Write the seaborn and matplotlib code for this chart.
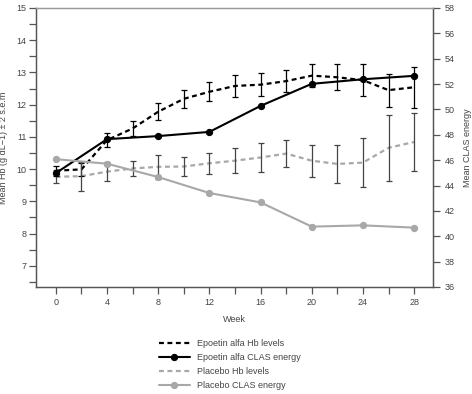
from matplotlib import pyplot as plt
from matplotlib import ticker as ticker
import seaborn as sns

sns.set_style('white')
plt.rcParams['font.family'] = ['Liberation Sans', 'DejaVu Sans']

# values
weeks_hb = [0, 2, 4, 6, 8, 10, 12, 14, 16, 18, 20, 22, 24, 26, 28]
epo_hb = [9.95, 9.99, 10.9, 11.26, 11.78, 12.18, 12.4, 12.58, 12.62, 12.73, 12.9, 12.85, 12.76, 12.45, 12.54]
epo_hb_err = [0.15, 0.2, 0.21, 0.23, 0.26, 0.28, 0.3, 0.33, 0.35, 0.34, 0.35, 0.41, 0.49, 0.51, 0.63]
pbo_hb = [9.76, 9.78, 9.92, 10.02, 10.07, 10.08, 10.18, 10.26, 10.36, 10.48, 10.26, 10.16, 10.2, 10.66, 10.84]
pbo_hb_err = [0.2, 0.45, 0.3, 0.23, 0.37, 0.3, 0.32, 0.38, 0.44, 0.42, 0.5, 0.6, 0.75, 1.02, 0.9]

weeks_clas = [0, 4, 8, 12, 16, 20, 24, 28]
epo_clas = [44.98, 47.66, 47.9, 48.23, 50.28, 52.02, 52.38, 52.65]
pbo_clas = [46.08, 45.72, 44.67, 43.41, 42.67, 40.76, 40.86, 40.68]

black = 'black'
grey = '#a8a8a8'
axis_col = '#555555'
text_col = '#444444'
fs = 6.5

fig = plt.figure(figsize=(4.72, 3.94), dpi=100)
ax = fig.add_axes([0.0763, 0.2716, 0.8417, 0.7081])
ax2 = ax.twinx()

# Hb levels (left axis)
sns.lineplot(x=weeks_hb, y=epo_hb, ax=ax, color=black, lw=1.6, dashes=False,
             linestyle=(0, (2.2, 1.6)), label='Epoetin alfa Hb levels', legend=False)
sns.lineplot(x=weeks_hb, y=pbo_hb, ax=ax, color=grey, lw=1.6, dashes=False,
             linestyle=(0, (2.2, 1.6)), label='Placebo Hb levels', legend=False)
ax.errorbar(weeks_hb, epo_hb, yerr=epo_hb_err, fmt='none', ecolor=black,
            elinewidth=0.9, capsize=2.2, capthick=0.9, zorder=4)
ax.errorbar(weeks_hb, pbo_hb, yerr=pbo_hb_err, fmt='none', ecolor='#444444',
            elinewidth=0.9, capsize=2.2, capthick=0.9, zorder=4)

# CLAS energy (right axis)
sns.lineplot(x=weeks_clas, y=epo_clas, ax=ax2, color=black, lw=1.5, marker='o',
             markersize=4.5, markeredgecolor=black, label='Epoetin alfa CLAS energy', legend=False)
sns.lineplot(x=weeks_clas, y=pbo_clas, ax=ax2, color=grey, lw=1.5, marker='o',
             markersize=4.5, markeredgecolor=grey, label='Placebo CLAS energy', legend=False)

ax.set_xlim(-1.55, 29.5)
ax.set_ylim(6.34, 15)
ax2.set_ylim(36, 58)

ax.xaxis.set_major_locator(ticker.MultipleLocator(4))
ax.xaxis.set_minor_locator(ticker.MultipleLocator(2))
ax.yaxis.set_major_locator(ticker.MultipleLocator(1))
ax.yaxis.set_minor_locator(ticker.MultipleLocator(0.5))
ax.set_yticks(range(7, 16))
ax2.set_yticks(range(36, 59, 2))

for a in (ax, ax2):
    for s in a.spines.values():
        s.set_color(axis_col)
        s.set_linewidth(0.9)
    a.tick_params(which='both', direction='out', length=5, width=0.9,
                  color=axis_col, labelcolor=text_col, labelsize=fs)
ax.tick_params(axis='x', which='both', bottom=True, pad=3)
ax.tick_params(axis='y', which='both', left=True, right=False, pad=2)
ax2.tick_params(axis='y', which='both', right=True, pad=3)
ax.spines['top'].set_color('#999999')
ax2.spines['top'].set_color('#999999')

ax.set_xlabel('Week', fontsize=fs, color=text_col, labelpad=6)
ax.set_ylabel('Mean Hb (g dL\u22121) \u00b1 2 s.e.m', fontsize=fs, color=text_col, labelpad=6)
ax2.set_ylabel('Mean CLAS energy', fontsize=fs, color=text_col, labelpad=6)

h1, l1 = ax.get_legend_handles_labels()
h2, l2 = ax2.get_legend_handles_labels()
handles = [h1[0], h2[0], h1[1], h2[1]]
labels = [l1[0], l2[0], l1[1], l2[1]]
leg = fig.legend(handles, labels, loc='upper left', bbox_to_anchor=(0.337, 0.14),
                 frameon=False, fontsize=fs, handlelength=3.4, handletextpad=0.8,
                 labelspacing=0.55, borderpad=0, borderaxespad=0, numpoints=1)
for t in leg.get_texts():
    t.set_color(text_col)

fig.savefig('out.png', dpi=100)
